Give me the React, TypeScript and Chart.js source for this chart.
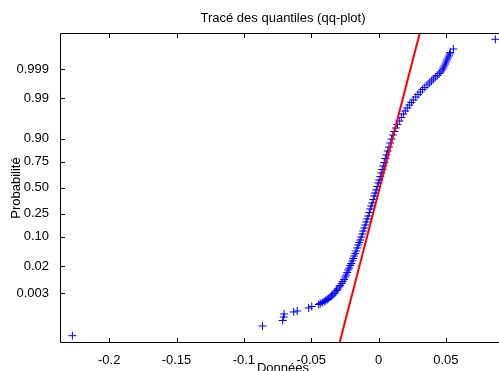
import React, { useEffect, useRef } from "react";
import { Chart, registerables } from "chart.js";

Chart.register(...registerables);

// Sorted sample values (Données) and their normal scores (theoretical quantiles)
const DONNEES = [
  -0.2273, -0.0862, -0.0712, -0.0704, -0.0701, -0.063, -0.0604, -0.0519, -0.0496,
  -0.0444, -0.0433, -0.0418, -0.0403, -0.0392, -0.0381, -0.037, -0.0359, -0.0348, -0.034,
  -0.0329, -0.0322, -0.0311, -0.0303, -0.0292, -0.0285, -0.0273, -0.0266, -0.0255, -0.0247,
  -0.024, -0.0233, -0.0225, -0.0218, -0.021, -0.0203, -0.0195, -0.0188, -0.0181, -0.0173,
  -0.0166, -0.0158, -0.0151, -0.0143, -0.0136, -0.0129, -0.0121, -0.0114, -0.0106, -0.0099,
  -0.0091, -0.0084, -0.0077, -0.0069, -0.0062, -0.0054, -0.0047, -0.0039, -0.0032, -0.0025,
  -0.0017, -0.001, -0.0002, 0.0005, 0.0013, 0.002, 0.0027, 0.0035, 0.0042, 0.005,
  0.0059, 0.0068, 0.0077, 0.0087, 0.0096, 0.0106, 0.0117, 0.0128, 0.014, 0.0154,
  0.0169, 0.0184, 0.0198, 0.0213, 0.0228, 0.0243, 0.0258, 0.0276, 0.0293, 0.031,
  0.0326, 0.0343, 0.036, 0.0377, 0.0392, 0.0406, 0.0421, 0.0436, 0.0451, 0.0462,
  0.0473, 0.0481, 0.0488, 0.0496, 0.0502, 0.0507, 0.0514, 0.0522, 0.0528, 0.0533,
  0.0555, 0.0867,
];
const QUANTILES = [
  -3.859, -3.606, -3.463, -3.372, -3.293, -3.241, -3.215, -3.137, -3.098,
  -3.046, -3.02, -2.994, -2.967, -2.941, -2.915, -2.889, -2.85, -2.824, -2.798,
  -2.759, -2.72, -2.681, -2.641, -2.589, -2.55, -2.498, -2.446, -2.394, -2.329,
  -2.276, -2.211, -2.146, -2.094, -2.029, -1.977, -1.911, -1.846, -1.781, -1.716,
  -1.651, -1.572, -1.494, -1.429, -1.364, -1.286, -1.207, -1.129, -1.051, -0.973,
  -0.894, -0.816, -0.738, -0.647, -0.555, -0.477, -0.399, -0.308, -0.216, -0.138,
  -0.06, 0.031, 0.123, 0.201, 0.292, 0.383, 0.475, 0.566, 0.657, 0.761,
  0.853, 0.957, 1.061, 1.166, 1.27, 1.374, 1.465, 1.557, 1.648, 1.739,
  1.831, 1.922, 2.0, 2.078, 2.156, 2.222, 2.287, 2.365, 2.43, 2.495,
  2.561, 2.613, 2.678, 2.73, 2.782, 2.834, 2.887, 2.926, 2.978, 3.017,
  3.069, 3.121, 3.174, 3.226, 3.278, 3.33, 3.382, 3.434, 3.486, 3.525,
  3.617, 3.87,
];

// Reference line through the quartiles, given by its two end points
const DROITE_DONNEES = [-0.029, 0.0306];
const DROITE_QUANTILES = [-4.05, 4.034];

// Axis ranges and ticks
const X_LIMITES = [-0.2365, 0.0946];
const Z_LIMITES = [-4.05, 4.034];
const X_TICKS = [-0.2, -0.15, -0.1, -0.05, 0, 0.05];
const X_TICK_LABELS = ["-0.2", "-0.15", "-0.1", "-0.05", "0", "0.05"];
const PROBAS = [0.003, 0.02, 0.1, 0.25, 0.5, 0.75, 0.9, 0.99, 0.999];
const PROBA_LABELS = ["0.003", "0.02", "0.10", "0.25", "0.50", "0.75", "0.90", "0.99", "0.999"];

const POLICE = "'Liberation Sans', Arial, Helvetica, sans-serif";
const TAILLE = 13;
const LONGUEUR_GRADUATION = 4.5;

// Inverse of the standard normal CDF (Acklam's rational approximation)
function probit(p: number): number {
  const a = [-39.69683028665376, 220.9460984245205, -275.9285104469687, 138.357751867269, -30.66479806614716, 2.506628277459239];
  const b = [-54.47609879822406, 161.5858368580409, -155.6989798598866, 66.80131188771972, -13.28068155288572];
  const c = [-0.007784894002430293, -0.3223964580411365, -2.400758277161838, -2.549732539343734, 4.374664141464968, 2.938163982698783];
  const d = [0.007784695709041462, 0.3224671290700398, 2.445134137142996, 3.754408661907416];
  const plow = 0.02425;
  const phigh = 1 - plow;
  if (p < plow) {
    const q = Math.sqrt(-2 * Math.log(p));
    return (((((c[0] * q + c[1]) * q + c[2]) * q + c[3]) * q + c[4]) * q + c[5]) /
      ((((d[0] * q + d[1]) * q + d[2]) * q + d[3]) * q + 1);
  }
  if (p <= phigh) {
    const q = p - 0.5;
    const r = q * q;
    return ((((((a[0] * r + a[1]) * r + a[2]) * r + a[3]) * r + a[4]) * r + a[5]) * q) /
      (((((b[0] * r + b[1]) * r + b[2]) * r + b[3]) * r + b[4]) * r + 1);
  }
  const q = Math.sqrt(-2 * Math.log(1 - p));
  return -(((((c[0] * q + c[1]) * q + c[2]) * q + c[3]) * q + c[4]) * q + c[5]) /
    ((((d[0] * q + d[1]) * q + d[2]) * q + d[3]) * q + 1);
}

// Frame around the axes with inward tick marks on every side
const cadre = {
  id: "cadre",
  afterDatasetsDraw(chart: any) {
    const { ctx, chartArea: a, scales } = chart;
    const L = Math.round(a.left) + 0.5;
    const R = Math.round(a.right) - 0.5;
    const T = Math.round(a.top) + 0.5;
    const B = Math.round(a.bottom) - 0.5;
    ctx.save();
    ctx.strokeStyle = "#000";
    ctx.lineWidth = 1;
    ctx.beginPath();
    ctx.rect(L, T, R - L, B - T);
    for (const v of X_TICKS) {
      const px = Math.round(scales.x.getPixelForValue(v)) + 0.5;
      ctx.moveTo(px, B);
      ctx.lineTo(px, B - LONGUEUR_GRADUATION);
      ctx.moveTo(px, T);
      ctx.lineTo(px, T + LONGUEUR_GRADUATION);
    }
    for (const p of PROBAS) {
      const py = Math.round(scales.y.getPixelForValue(probit(p))) + 0.5;
      ctx.moveTo(L, py);
      ctx.lineTo(L + LONGUEUR_GRADUATION, py);
      ctx.moveTo(R, py);
      ctx.lineTo(R - LONGUEUR_GRADUATION, py);
    }
    ctx.stroke();
    ctx.restore();
  },
};

export default function App() {
  const ref = useRef<HTMLCanvasElement | null>(null);

  useEffect(() => {
    if (!ref.current) return;
    const points = DONNEES.map((x, i) => ({ x, y: QUANTILES[i] }));
    const droite = DROITE_DONNEES.map((x, i) => ({ x, y: DROITE_QUANTILES[i] }));
    const police = { family: POLICE, size: TAILLE, weight: "normal" as const };

    const chart = new Chart(ref.current, {
      type: "scatter",
      data: {
        datasets: [
          {
            type: "line",
            label: "droite",
            data: droite,
            borderColor: "#ff0000",
            borderWidth: 2,
            pointRadius: 0,
            showLine: true,
            fill: false,
          },
          {
            label: "Données",
            data: points,
            pointStyle: "cross",
            pointRadius: 4,
            pointBorderWidth: 1,
            borderColor: "#0000ff",
            backgroundColor: "#0000ff",
            pointHoverRadius: 4,
          },
        ],
      },
      options: {
        responsive: false,
        animation: false,
        devicePixelRatio: 1,
        events: [],
        layout: { padding: { left: 0, right: 24, top: 0, bottom: 0 } },
        plugins: {
          legend: { display: false },
          tooltip: { enabled: false },
          title: {
            display: true,
            text: "Tracé des quantiles (qq-plot)",
            color: "#000",
            font: police,
            fullSize: false,
            padding: { top: 11, bottom: 6.4 },
          },
        },
        scales: {
          x: {
            type: "linear",
            position: "bottom",
            min: X_LIMITES[0],
            max: X_LIMITES[1],
            grid: { display: false },
            border: { display: false },
            afterBuildTicks: (s: any) => {
              s.ticks = X_TICKS.map((v) => ({ value: v }));
            },
            afterFit: (s: any) => {
              s.height = 42;
            },
            ticks: {
              autoSkip: false,
              maxRotation: 0,
              padding: 2,
              color: "#000",
              font: police,
              callback: (_v: any, i: number) => X_TICK_LABELS[i],
            },
            title: {
              display: true,
              text: "Données",
              color: "#000",
              font: police,
              padding: { top: 0, bottom: 9.1 },
            },
          },
          y: {
            type: "linear",
            position: "left",
            min: Z_LIMITES[0],
            max: Z_LIMITES[1],
            grid: { display: false },
            border: { display: false },
            afterBuildTicks: (s: any) => {
              s.ticks = PROBAS.map((p) => ({ value: probit(p) }));
            },
            afterFit: (s: any) => {
              s.width = 60;
            },
            ticks: {
              autoSkip: false,
              padding: 3,
              color: "#000",
              font: police,
              callback: (_v: any, i: number) => PROBA_LABELS[i],
            },
            title: {
              display: true,
              text: "Probabilité",
              color: "#000",
              font: police,
              padding: { top: 8.7, bottom: 0 },
            },
          },
        },
      },
      plugins: [cadre],
    });

    return () => chart.destroy();
  }, []);

  return (
    <div
      style={{
        position: "fixed",
        left: 0,
        top: 0,
        width: 499,
        height: 371,
        overflow: "hidden",
        background: "#fff",
      }}
    >
      <canvas ref={ref} width={530} height={385} style={{ display: "block" }} />
    </div>
  );
}
